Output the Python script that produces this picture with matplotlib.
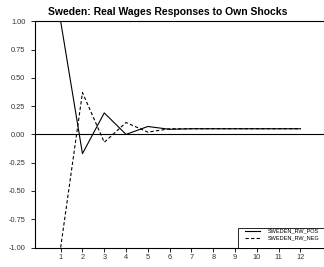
import matplotlib
matplotlib.use("Agg")
import matplotlib.pyplot as plt
from matplotlib.patches import Rectangle

# ---------------------------------------------------------------------------
# Data
# ---------------------------------------------------------------------------
horizon = [1, 2, 3, 4, 5, 6, 7, 8, 9, 10, 11, 12]
rw_pos = [1.00, -0.17, 0.19, 0.00, 0.07, 0.045, 0.05, 0.05, 0.05, 0.05, 0.05, 0.05]
rw_neg = [-1.00, 0.37, -0.07, 0.105, 0.02, 0.05, 0.05, 0.05, 0.05, 0.05, 0.05, 0.05]
y_ticks = [-1.00, -0.75, -0.50, -0.25, 0.00, 0.25, 0.50, 0.75, 1.00]

plt.rcParams["font.family"] = ["Liberation Sans", "DejaVu Sans"]

W, H = 324, 267
fig = plt.figure(figsize=(W / 100, H / 100), dpi=100)
ax = fig.add_axes([34.5 / W, 1 - 247.5 / H, 1 - 34.5 / W, (247.5 - 21.3) / H])

ax.plot(horizon, rw_pos, color="black", lw=0.8, label="SWEDEN_RW_POS")
ax.plot(horizon, rw_neg, color="black", lw=0.8, linestyle=(0, (3, 2)),
        label="SWEDEN_RW_NEG")
ax.axhline(0, color="black", lw=0.8)

ax.set_xlim(-0.2, 13.08)
ax.set_ylim(-1.0, 1.0)
ax.set_xticks(horizon)
ax.set_yticks(y_ticks)
ax.set_yticklabels([f"{v:.2f}" for v in y_ticks])
ax.tick_params(labelsize=5.3, length=3, width=0.6, colors="black",
               labelcolor="#333333")
ax.tick_params(axis="y", pad=3.5)
ax.tick_params(axis="x", pad=1.8)

ax.spines["right"].set_visible(False)
for side in ["left", "top", "bottom"]:
    ax.spines[side].set_linewidth(0.8)

# title sits a little left of the axes centre in the original
fig.text(168 / W, 1 - 12 / H, "Sweden: Real Wages Responses to Own Shocks",
         fontsize=7.5, fontweight="bold", ha="center", va="center")

# legend: small text, box hangs off the right edge of the figure
leg = ax.legend(loc="upper left", bbox_to_anchor=(244 / W, 1 - 227.7 / H),
                bbox_transform=fig.transFigure, fontsize=4, frameon=False,
                borderpad=0.2, handlelength=2.6, handletextpad=1.5,
                labelspacing=0.35, borderaxespad=0.0)
box = Rectangle((238 / W, 1 - 247.5 / H), 100 / W, 19.8 / H,
                transform=fig.transFigure, facecolor="white",
                edgecolor="black", lw=0.6, zorder=4)
ax.add_artist(box)
leg.set_zorder(5)

fig.savefig("out.png", dpi=100)
